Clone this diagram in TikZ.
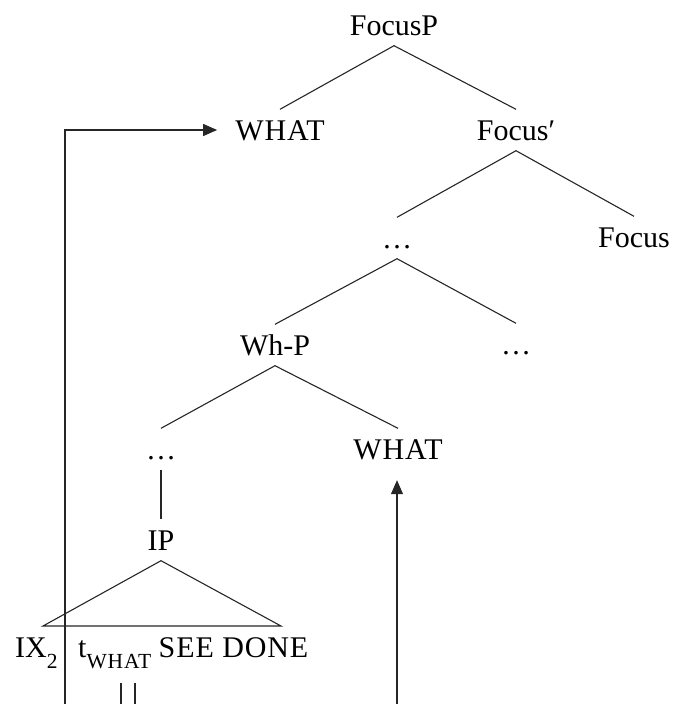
\documentclass[tikz,border=0pt]{standalone}
\usepackage{fontspec}
\setmainfont{Liberation Serif}
\usetikzlibrary{arrows.meta}
% lowered, smaller subscript for the leaf labels
\newcommand\lowsub[1]{\raisebox{-11pt}{\fontsize{21.5}{21.5}\selectfont\addfontfeatures{LetterSpace=4}#1}}
% slightly opened spacing for words in capitals
\newcommand\caps[1]{{\addfontfeatures{LetterSpace=3}#1}}
\begin{document}
\begin{tikzpicture}[x=1pt,y=-1pt,
  lab/.style={font=\fontsize{30}{36}\selectfont, text height=20pt, text depth=0pt,
              inner xsep=2pt, inner ysep=10.5pt},
  leaf/.style={font=\fontsize{30}{36}\selectfont, anchor=base west, inner sep=0pt},
  branch/.style={line width=1.1pt, draw=black!85},
  move/.style={line width=1.1pt, draw=black!85, -{Triangle[length=14pt,width=12pt]}}]
\useasboundingbox (0,0) rectangle (672,704);

% tree labels
\node[lab] (focusP)   at (394,25)  {FocusP};
\node[lab] (what1)    at (280,130) {\caps{WHAT}};
\node[lab] (focusbar) at (516,130) {Focus′};
\node[lab] (dots1)    at (397,238) {\dots};
\node[lab] (focus)    at (634,237) {Focus};
\node[lab] (whp)      at (275,345) {Wh-P};
\node[lab] (dots2)    at (516,344) {\dots};
\node[lab] (dots3)    at (161,449) {\dots};
\node[lab] (what2)    at (398,449) {\caps{WHAT}};
\node[lab] (ip)       at (161,540) {IP};

% leaves under the IP triangle
\node[leaf] (ix)    at (15,657) {IX\lowsub{2}};
\node[leaf] (trace) at (78,657) {t\lowsub{WHAT} \caps{SEE DONE}};

% branches
\draw[branch] (what1.north) -- (focusP.south) -- (focusbar.north);
\draw[branch] (dots1.north) -- (focusbar.south) -- (focus.north);
\draw[branch] (whp.north) -- (dots1.south) -- (dots2.north);
\draw[branch] (dots3.north) -- (whp.south) -- (what2.north);
\draw[branch] (dots3.south) -- (ip.north);

% IP triangle
\coordinate (triL) at (43,626);
\coordinate (triR) at (281,626);
\draw[branch] (ip.south) -- (triL) -- (triR) -- cycle;

% movement arrows
\coordinate (srcL) at (65,704);
\coordinate (srcR) at (397,704);
\draw[move, shorten >=16pt] (srcL) |- (what1.west);
\draw[move, shorten >=10.5pt] (srcR) -- (srcR |- what2.south);

% double line under the trace
\coordinate (d1a) at (121,683); \coordinate (d1b) at (121,704);
\coordinate (d2a) at (135,683); \coordinate (d2b) at (135,704);
\draw[branch] (d1a) -- (d1b);
\draw[branch] (d2a) -- (d2b);
\end{tikzpicture}
\end{document}
